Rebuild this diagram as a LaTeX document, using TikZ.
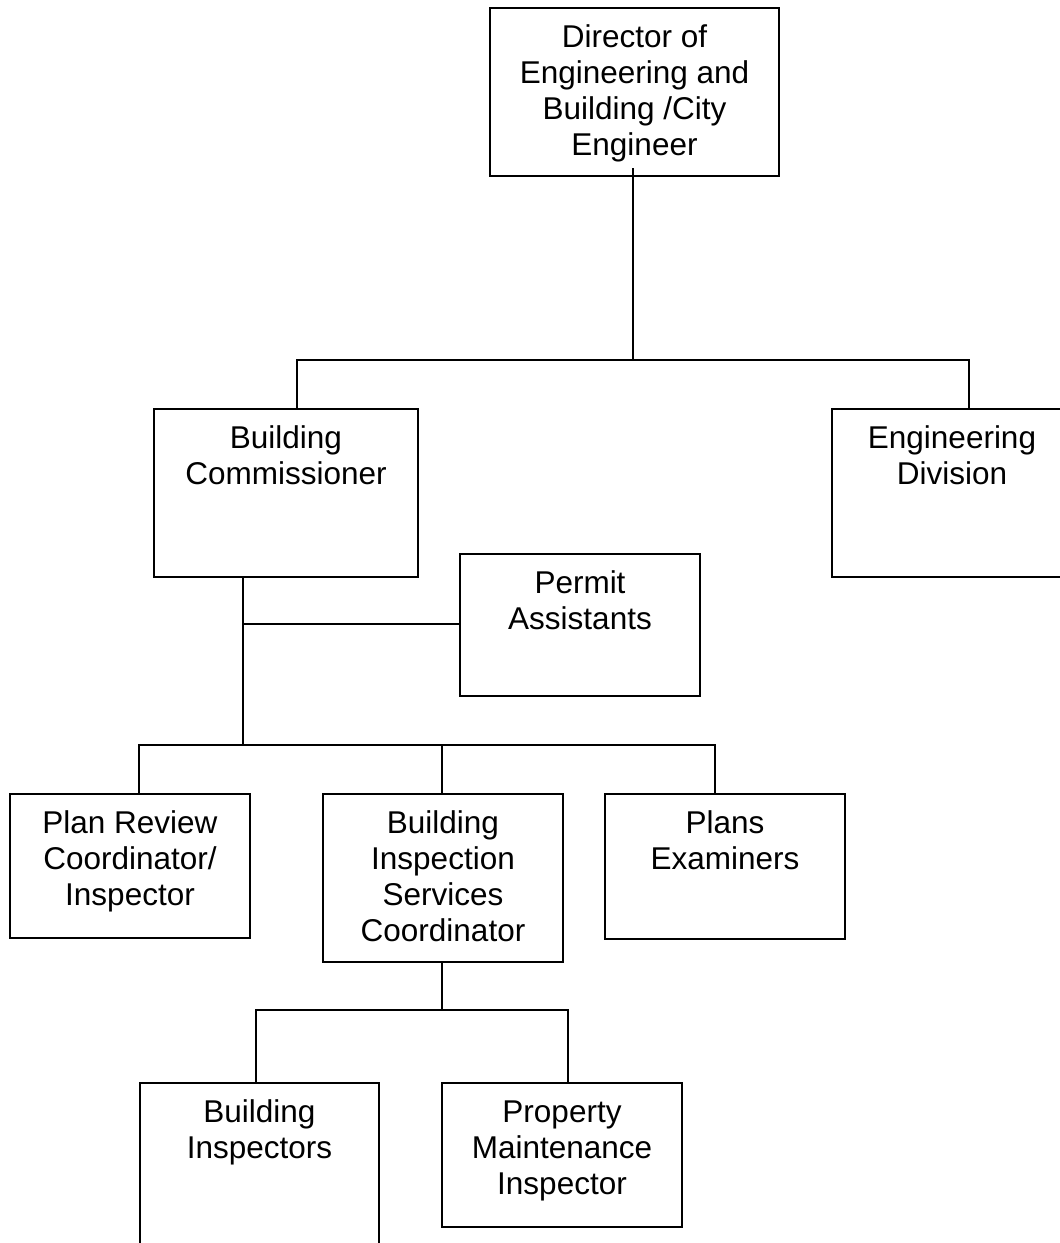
\documentclass[tikz,border=0pt]{standalone}
\usepackage{fontspec}
\setmainfont{Liberation Sans}

% \orgunit{name}{left}{top}{width}{height}{lines}{text}:
% a box whose first text baseline sits 40pt below its top edge
\newcommand\orgunit[7]{%
  \node[orgbox, minimum width=#4pt, minimum height=#5pt] (#1) at (#2,#3) {};
  \node[orgtext] (#1-label) at ([yshift={-(40+(#6-1)*36.3)}]#1.north) {#7};}

\begin{document}
\begin{tikzpicture}[x=1pt, y=-1pt,
  orgbox/.style={draw, line width=2pt, inner sep=0pt, anchor=north west},
  orgtext/.style={font=\fontsize{31.5pt}{36.3pt}\selectfont, align=center,
                  anchor=base, inner sep=0pt},
  link/.style={line width=1.8pt}]

\useasboundingbox (0,0) rectangle (1060,1243);
\fill[white] (0,0) rectangle (1060,1243);
\clip (0,0) rectangle (1060,1243);

% units
\orgunit{dir}{489}{7}{289}{168}{4}{Director of\\Engineering and\\Building /City\\Engineer}
\orgunit{bc}{153}{408}{264}{168}{2}{Building\\Commissioner}
\orgunit{eng}{831}{408}{240}{168}{2}{Engineering\\Division}
\orgunit{permit}{459}{553}{240}{142}{2}{Permit\\Assistants}
\orgunit{pr}{9}{793}{240}{144}{3}{Plan Review\\Coordinator/\\Inspector}
\orgunit{bisc}{322}{793}{240}{168}{4}{Building\\Inspection\\Services\\Coordinator}
\orgunit{pe}{604}{793}{240}{145}{2}{Plans\\Examiners}
\orgunit{bi}{139}{1082}{239}{168}{2}{Building\\Inspectors}
\orgunit{pmi}{441}{1082}{240}{144}{3}{Property\\Maintenance\\Inspector}

% junction points
\coordinate (dirfoot) at (633,168);
\coordinate (bcjoin) at (297,360);
\coordinate (engjoin) at (969,360);
\coordinate (bcstem) at (243,745);
\coordinate (permitjoin) at (243,624);
\coordinate (prjoin) at (139,745);
\coordinate (biscjoin) at (441.7,745);
\coordinate (pejoin) at (715,745);
\coordinate (lowstem) at (441.7,1010);
\coordinate (bijoin) at (255.7,1010);
\coordinate (pmijoin) at (567.7,1010);

% top level
\draw[link] (dirfoot) -- (dirfoot |- bcjoin);
\draw[link] (bc.north -| bcjoin) -- (bcjoin) -- (engjoin) -- (eng.north -| engjoin);

% building commissioner
\draw[link] (bc.south -| bcstem) -- (bcstem);
\draw[link] (permitjoin) -- (permitjoin -| permit.west);
\draw[link] (pr.north -| prjoin) -- (prjoin) -- (pejoin) -- (pe.north -| pejoin);
\draw[link] (biscjoin) -- (biscjoin |- bisc.north);

% inspection services
\draw[link] (bisc.south -| lowstem) -- (lowstem);
\draw[link] (bi.north -| bijoin) -- (bijoin) -- (pmijoin) -- (pmi.north -| pmijoin);

\end{tikzpicture}
\end{document}
